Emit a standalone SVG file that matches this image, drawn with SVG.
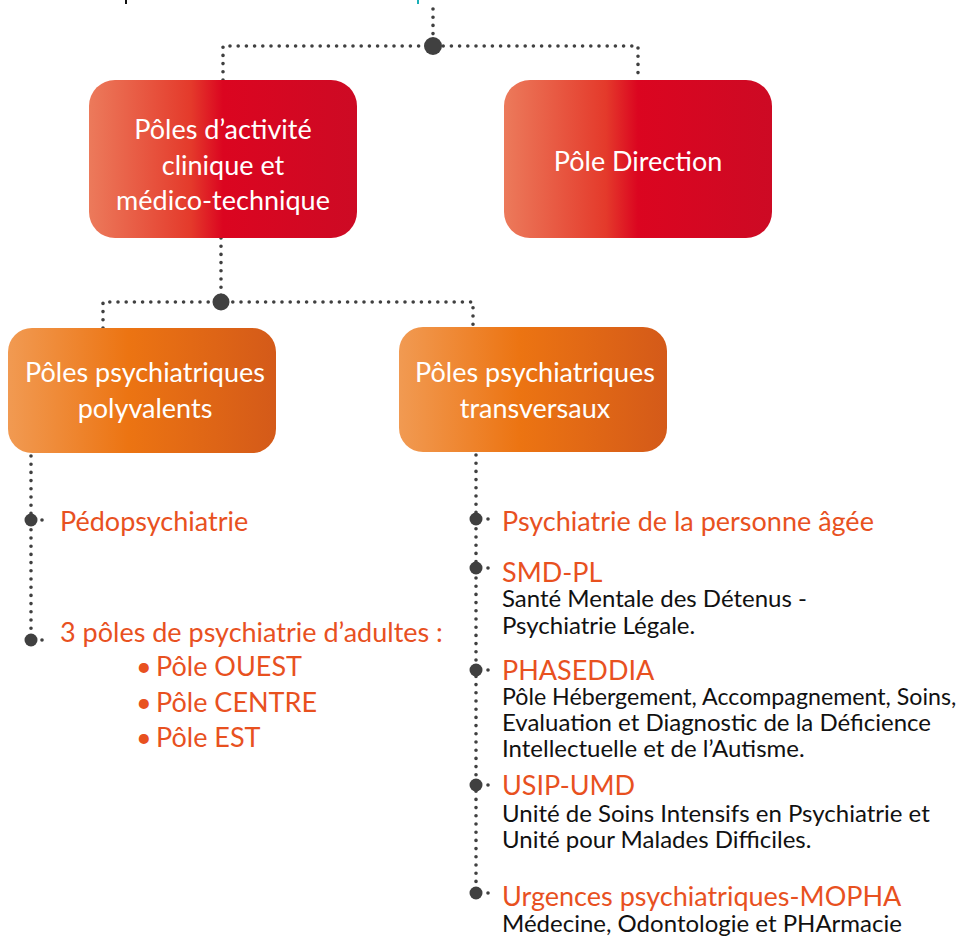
<svg xmlns="http://www.w3.org/2000/svg" width="960" height="937" viewBox="0 0 960 937">
<defs>
<linearGradient id="gRed" x1="0" y1="0" x2="1" y2="0">
<stop offset="0" stop-color="#EC7A5B"/>
<stop offset="0.38" stop-color="#E43A2B"/>
<stop offset="0.5" stop-color="#DB0520"/>
<stop offset="1" stop-color="#CD0A24"/>
</linearGradient>
<linearGradient id="gOrange" x1="0" y1="0" x2="1" y2="0">
<stop offset="0" stop-color="#F19A52"/>
<stop offset="0.45" stop-color="#EC7412"/>
<stop offset="1" stop-color="#D45A19"/>
</linearGradient>
<style>
.dot{fill:none;stroke:#404040;stroke-width:3.6;stroke-linecap:round;stroke-dasharray:0 8.2}
.sd{fill:none;stroke:#404040;stroke-width:3.6;stroke-linecap:round;stroke-dasharray:0 10}
.big{fill:#404040}
.bt{font-family:Lato,"Open Sans","Liberation Sans",sans-serif;font-size:27px;fill:#ffffff;text-anchor:middle}
.or{font-family:Lato,"Open Sans","Liberation Sans",sans-serif;font-size:27px;fill:#E8511F}
.bk{font-family:Lato,"Open Sans","Liberation Sans",sans-serif;font-size:24px;fill:#111111}
</style>
</defs>
<rect width="960" height="937" fill="#ffffff"/>
<rect x="125" y="0" width="2" height="4" fill="#111111"/>
<rect x="417" y="0" width="2" height="4" fill="#1AB0B8"/>
<g id="connectors">
<path class="dot" d="M433 9 V46"/>
<path class="dot" d="M223 80 V46 H638 V80"/>
<circle class="big" cx="433" cy="46" r="9"/>
<path class="dot" d="M221 238 V302"/>
<path class="dot" d="M103 328 V302 H473 V328"/>
<circle class="big" cx="221" cy="302" r="8.5"/>
<path class="dot" d="M31 456 V640"/>
<path class="sd" d="M42 520 H52"/>
<path class="sd" d="M42 640 H52"/>
<circle class="big" cx="31" cy="520" r="6.5"/>
<circle class="big" cx="31" cy="640" r="6.5"/>
<path class="dot" d="M476 455 V893"/>
<path class="sd" d="M488 519 H498"/>
<path class="sd" d="M488 568 H498"/>
<path class="sd" d="M488 670 H498"/>
<path class="sd" d="M488 785 H498"/>
<path class="sd" d="M488 893 H498"/>
<circle class="big" cx="476" cy="519" r="6.5"/>
<circle class="big" cx="476" cy="568" r="6.5"/>
<circle class="big" cx="476" cy="670" r="6.5"/>
<circle class="big" cx="476" cy="785" r="6.5"/>
<circle class="big" cx="476" cy="893" r="6.5"/>
</g>
<g id="node-clinique">
<rect x="89" y="80" width="268" height="158" rx="26" fill="url(#gRed)"/>
<text class="bt" x="223" y="139">Pôles d’activité</text>
<text class="bt" x="223" y="175">clinique et</text>
<text class="bt" x="223" y="210">médico-technique</text>
</g>
<g id="node-direction">
<rect x="504" y="80" width="268" height="158" rx="26" fill="url(#gRed)"/>
<text class="bt" x="638" y="171">Pôle Direction</text>
</g>
<g id="node-polyvalents">
<rect x="8" y="328" width="268" height="125" rx="24" fill="url(#gOrange)"/>
<text class="bt" x="145" y="382">Pôles psychiatriques</text>
<text class="bt" x="145" y="418">polyvalents</text>
</g>
<g id="node-transversaux">
<rect x="399" y="327" width="268" height="125" rx="24" fill="url(#gOrange)"/>
<text class="bt" x="535" y="382">Pôles psychiatriques</text>
<text class="bt" x="535" y="418">transversaux</text>
</g>
<g id="list-polyvalents">
<text class="or" x="60" y="531">Pédopsychiatrie</text>
<text class="or" x="60" y="642">3 pôles de psychiatrie d’adultes :</text>
<text class="or" y="676"><tspan x="136">•</tspan><tspan x="156">Pôle OUEST</tspan></text>
<text class="or" y="712"><tspan x="136">•</tspan><tspan x="156">Pôle CENTRE</tspan></text>
<text class="or" y="747"><tspan x="136">•</tspan><tspan x="156">Pôle EST</tspan></text>
</g>
<g id="list-transversaux">
<text class="or" x="502" y="531">Psychiatrie de la personne âgée</text>
<text class="or" x="502" y="582">SMD-PL</text>
<text class="bk" x="502" y="607">Santé Mentale des Détenus -</text>
<text class="bk" x="502" y="634">Psychiatrie Légale.</text>
<text class="or" x="502" y="680">PHASEDDIA</text>
<text class="bk" x="502" y="705" style="font-size:23.2px">Pôle Hébergement, Accompagnement, Soins,</text>
<text class="bk" x="502" y="731">Evaluation et Diagnostic de la Déficience</text>
<text class="bk" x="502" y="757">Intellectuelle et de l’Autisme.</text>
<text class="or" x="502" y="795">USIP-UMD</text>
<text class="bk" x="502" y="822">Unité de Soins Intensifs en Psychiatrie et</text>
<text class="bk" x="502" y="848">Unité pour Malades Difficiles.</text>
<text class="or" x="502" y="906">Urgences psychiatriques-MOPHA</text>
<text class="bk" x="502" y="932">Médecine, Odontologie et PHArmacie</text>
</g>
</svg>
